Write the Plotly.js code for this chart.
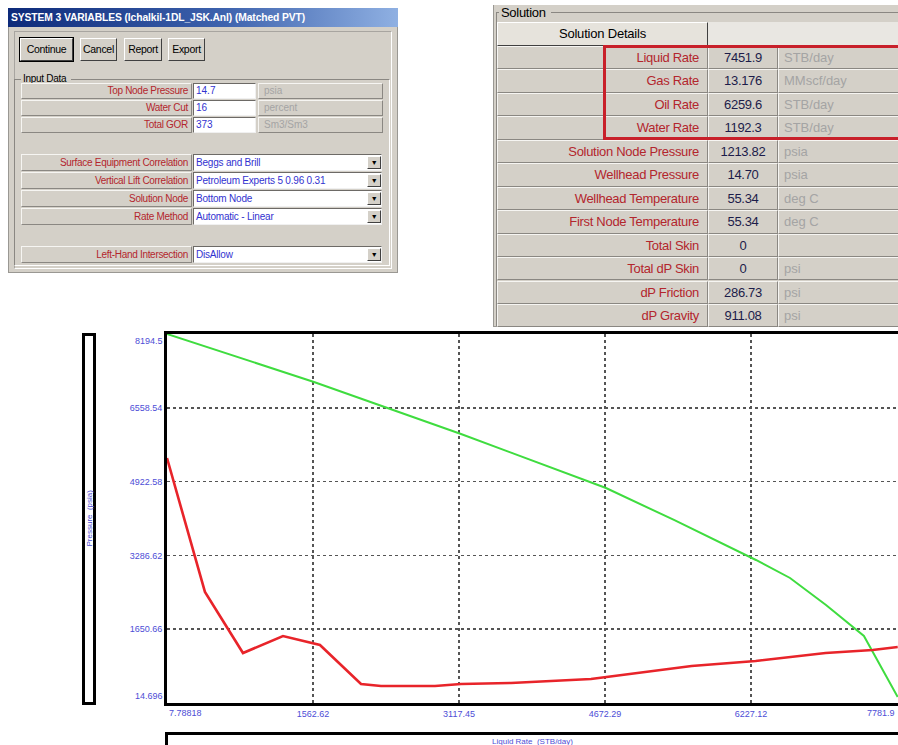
<!DOCTYPE html>
<html><head><meta charset="utf-8">
<script src="https://cdn.plot.ly/plotly-3.0.1.min.js"></script>
<style>
body{margin:0;width:898px;height:745px;overflow:hidden;background:#fff;font-family:"Liberation Sans",Arial,sans-serif;position:relative}
.a{position:absolute;box-sizing:border-box;white-space:nowrap;overflow:hidden}
.raised{background:#d4d0c8;border:1px solid;border-color:#f6f5f2 #8a8782 #8a8782 #f6f5f2}
.sunken{background:#fff;border:1px solid;border-color:#6d6a66 #f0f0f0 #f0f0f0 #6d6a66}
.btn{background:#d4d0c8;border:1px solid;border-color:#fff #404040 #404040 #fff;font-size:10.5px;text-align:center;color:#000;letter-spacing:-0.3px}
</style></head><body>
<div class="a" style="left:82px;top:333px;width:14px;height:372px;border:3px solid #000;background:#fff"></div>
<div class="a" style="left:165px;top:732px;width:760px;height:30px;border:3px solid #000;background:#fff"></div>
<div id="chart" class="a" style="left:0;top:0;width:898px;height:745px"></div>
<div id="ui"></div>
<script>
// ---- chart data ----
const xTickVals = [7.78818, 1562.62, 3117.45, 4672.29, 6227.12, 7781.9];
const xTickText = ['7.78818', '1562.62', '3117.45', '4672.29', '6227.12', '7781.9'];
const yTickVals = [14.696, 1650.66, 3286.62, 4922.58, 6558.54, 8194.5];
const yTickText = ['14.696', '1650.66', '3286.62', '4922.58', '6558.54', '8194.5'];
const iprRate = [7.79, 1573, 3139, 4683, 5407, 6280, 6643, 7026, 7430, 7790];
const iprPressure = [8194.5, 7131, 5978, 4781, 4072, 3185, 2786, 2187, 1500, 148];
const vlpRate = [7.79, 412, 817, 1243, 1637, 2074, 2287, 2862, 3139, 3671, 4523, 5595, 6277, 7022, 7523, 7790];
const vlpPressure = [5446, 2476, 1123, 1500, 1300, 436, 392, 392, 436, 458, 547, 835, 946, 1123, 1190, 1256];
const xTitle = 'Liquid Rate  (STB/day)';
const yTitle = 'Pressure  (psia)';

// ---- dialog texts ----
const windowTitle = 'SYSTEM 3 VARIABLES (Ichalkil-1DL_JSK.Anl) (Matched PVT)';
const buttonLabels = ['Continue', 'Cancel', 'Report', 'Export'];
const inputLabels = ['Top Node Pressure', 'Water Cut', 'Total GOR'];
const inputValues = ['14.7', '16', '373'];
const inputUnits = ['psia', 'percent', 'Sm3/Sm3'];
const selectLabels = ['Surface Equipment Correlation', 'Vertical Lift Correlation', 'Solution Node', 'Rate Method', 'Left-Hand Intersection'];
const selectValues = ['Beggs and Brill', 'Petroleum Experts 5 0.96 0.31', 'Bottom Node', 'Automatic - Linear', 'DisAllow'];
const solLabels = ['Liquid Rate', 'Gas Rate', 'Oil Rate', 'Water Rate', 'Solution Node Pressure', 'Wellhead Pressure', 'Wellhead Temperature', 'First Node Temperature', 'Total Skin', 'Total dP Skin', 'dP Friction', 'dP Gravity'];
const solValues = ['7451.9', '13.176', '6259.6', '1192.3', '1213.82', '14.70', '55.34', '55.34', '0', '0', '286.73', '911.08'];
const solUnits = ['STB/day', 'MMscf/day', 'STB/day', 'STB/day', 'psia', 'psia', 'deg C', 'deg C', '', 'psi', 'psi', 'psi'];

// ---- chart ----
const blue = '#4d4dd6';
const tf = {family: 'Liberation Sans, Arial, sans-serif', size: 9, color: blue};
Plotly.newPlot('chart', [
  {x: iprRate, y: iprPressure, type: 'scatter', mode: 'lines', line: {color: '#3fdc3f', width: 2}, hoverinfo: 'skip'},
  {x: vlpRate, y: vlpPressure, type: 'scatter', mode: 'lines', line: {color: '#e8242a', width: 2.6}, hoverinfo: 'skip'}
], {
  width: 898, height: 745, showlegend: false,
  margin: {l: 167, r: 0, t: 334, b: 42},
  paper_bgcolor: 'rgba(0,0,0,0)', plot_bgcolor: '#fff',
  xaxis: {range: [7.78818, 7792.9], tickvals: xTickVals.slice(1, 5), ticktext: xTickText.slice(1, 5),
    showgrid: true, griddash: 'dot', gridcolor: '#555', gridwidth: 1.6, zeroline: false,
    showline: true, linewidth: 3, linecolor: '#000', mirror: true, ticks: '', tickfont: tf},
  yaxis: {range: [14.696, 8194.5], tickvals: yTickVals.slice(1, 5), ticktext: yTickText.slice(1, 5),
    showgrid: true, griddash: 'dot', gridcolor: '#555', gridwidth: 1.6, zeroline: false,
    showline: true, linewidth: 3, linecolor: '#000', mirror: false, ticks: '', tickfont: tf},
  annotations: [
    {x: xTickVals[0], xref: 'x', y: 0, yref: 'paper', xanchor: 'left', yanchor: 'top', yshift: -3, text: xTickText[0], showarrow: false, font: tf},
    {x: xTickVals[5], xref: 'x', y: 0, yref: 'paper', xanchor: 'right', yanchor: 'top', yshift: -3, text: xTickText[5], showarrow: false, font: tf},
    {x: 0, xref: 'paper', y: yTickVals[5], yref: 'y', xanchor: 'right', yanchor: 'top', xshift: -2, text: yTickText[5], showarrow: false, font: tf},
    {x: 0, xref: 'paper', y: yTickVals[0], yref: 'y', xanchor: 'right', yanchor: 'bottom', xshift: -2, text: yTickText[0], showarrow: false, font: tf},
    {x: -0.1067, xref: 'paper', y: 0.5, yref: 'paper', xanchor: 'center', yanchor: 'middle', textangle: -90, text: yTitle, showarrow: false, font: {family: tf.family, size: 8, color: blue}},
    {x: 0.5, xref: 'paper', y: -0.103, yref: 'paper', xanchor: 'center', yanchor: 'middle', text: xTitle, showarrow: false, font: {family: tf.family, size: 8, color: blue}}
  ]
}, {staticPlot: true, displayModeBar: false});

// ---- dialogs (HTML) ----
let h = '';
function box(l, t, w, hh, cls, style, txt) {
  h += `<div class="a ${cls || ''}" style="left:${l}px;top:${t}px;width:${w}px;height:${hh}px;${style || ''}">${txt || ''}</div>`;
}
// left window
box(8, 8, 390, 265, '', 'background:#d4d0c8;border:1px solid #9a9893');
box(8, 8, 390, 19, '', 'background:linear-gradient(to right,#0d2a7a,#3d62ad 55%,#8fb0e2);color:#fff;font-weight:bold;font-size:10.3px;line-height:19px;padding-left:3px;letter-spacing:-0.1px', windowTitle);
box(14, 31, 378, 238, '', 'border:1px solid;border-color:#a8a5a0 #fff #fff #a8a5a0');
const btnX = [20, 80, 124, 168], btnW = [53, 37, 38, 37];
buttonLabels.forEach((b, i) => {
  box(btnX[i], 38, btnW[i], 23, 'btn', 'line-height:21px;' + (i === 0 ? 'outline:1px solid #000;' : ''), b);
});
box(14, 79, 376, 187, '', 'border:1px solid;border-color:#8a8782 #fff #fff #8a8782');
box(21, 73, 50, 12, '', 'background:#d4d0c8;font-size:10px;line-height:12px;padding-left:2px;letter-spacing:-0.3px', 'Input Data');
const inTop = [83, 100, 117];
inputLabels.forEach((lb, i) => {
  box(21, inTop[i], 171, 16, 'raised', 'text-align:right;padding-right:3px;color:#b3262d;font-size:10px;line-height:14px;letter-spacing:-0.3px', lb);
  box(193, inTop[i], 63, 16, 'sunken', 'color:#3232d0;font-size:10px;line-height:14px;padding-left:2px', inputValues[i]);
  box(258, inTop[i], 125, 16, 'raised', 'color:#a4a4a4;font-size:10px;line-height:14px;padding-left:5px', inputUnits[i]);
});
const selTop = [154, 172, 190, 208, 246];
selectLabels.forEach((lb, i) => {
  box(21, selTop[i], 171, 17, 'raised', 'text-align:right;padding-right:3px;color:#b3262d;font-size:10px;line-height:15px;letter-spacing:-0.3px', lb);
  box(193, selTop[i], 189, 17, 'sunken', 'color:#3232d0;font-size:10px;line-height:15px;padding-left:2px;letter-spacing:-0.2px', selectValues[i]);
  box(367, selTop[i] + 2, 14, 13, 'btn', 'font-size:7px;line-height:11px', '&#9660;');
});
// right window
box(493, 5, 410, 322, '', 'background:#d4d0c8;border-left:1px solid #9a9893;border-bottom:1px solid #9a9893');
box(496, 12, 410, 314, '', 'border-top:1px solid #8a8782;border-left:1px solid #8a8782');
box(499, 5, 52, 15, '', 'background:#d4d0c8;font-size:13px;line-height:15px;padding-left:2px;letter-spacing:-0.3px', 'Solution');
box(497, 22, 211, 24, 'btn', 'font-size:13px;line-height:22px;background:#e6e3dc;letter-spacing:-0.2px', 'Solution Details');
box(708, 22, 195, 24, '', 'background:#e9e7e2');
solLabels.forEach((lb, i) => {
  const t = 46 + i * 23.45;
  box(497, t, 211, 23.45, 'raised', 'text-align:right;padding-right:8px;color:#b3262d;font-size:13px;line-height:21px;letter-spacing:-0.3px', lb);
  box(708, t, 70, 23.45, 'raised', 'text-align:center;color:#1c1c4a;font-size:13px;line-height:21px;letter-spacing:-0.3px', solValues[i]);
  box(778, t, 125, 23.45, 'raised', 'color:#a4a4a4;font-size:13px;line-height:21px;padding-left:5px', solUnits[i]);
});
box(603, 45, 300, 95, '', 'border:3px solid #c8202a');
document.getElementById('ui').innerHTML = h;
</script>
</body></html>
